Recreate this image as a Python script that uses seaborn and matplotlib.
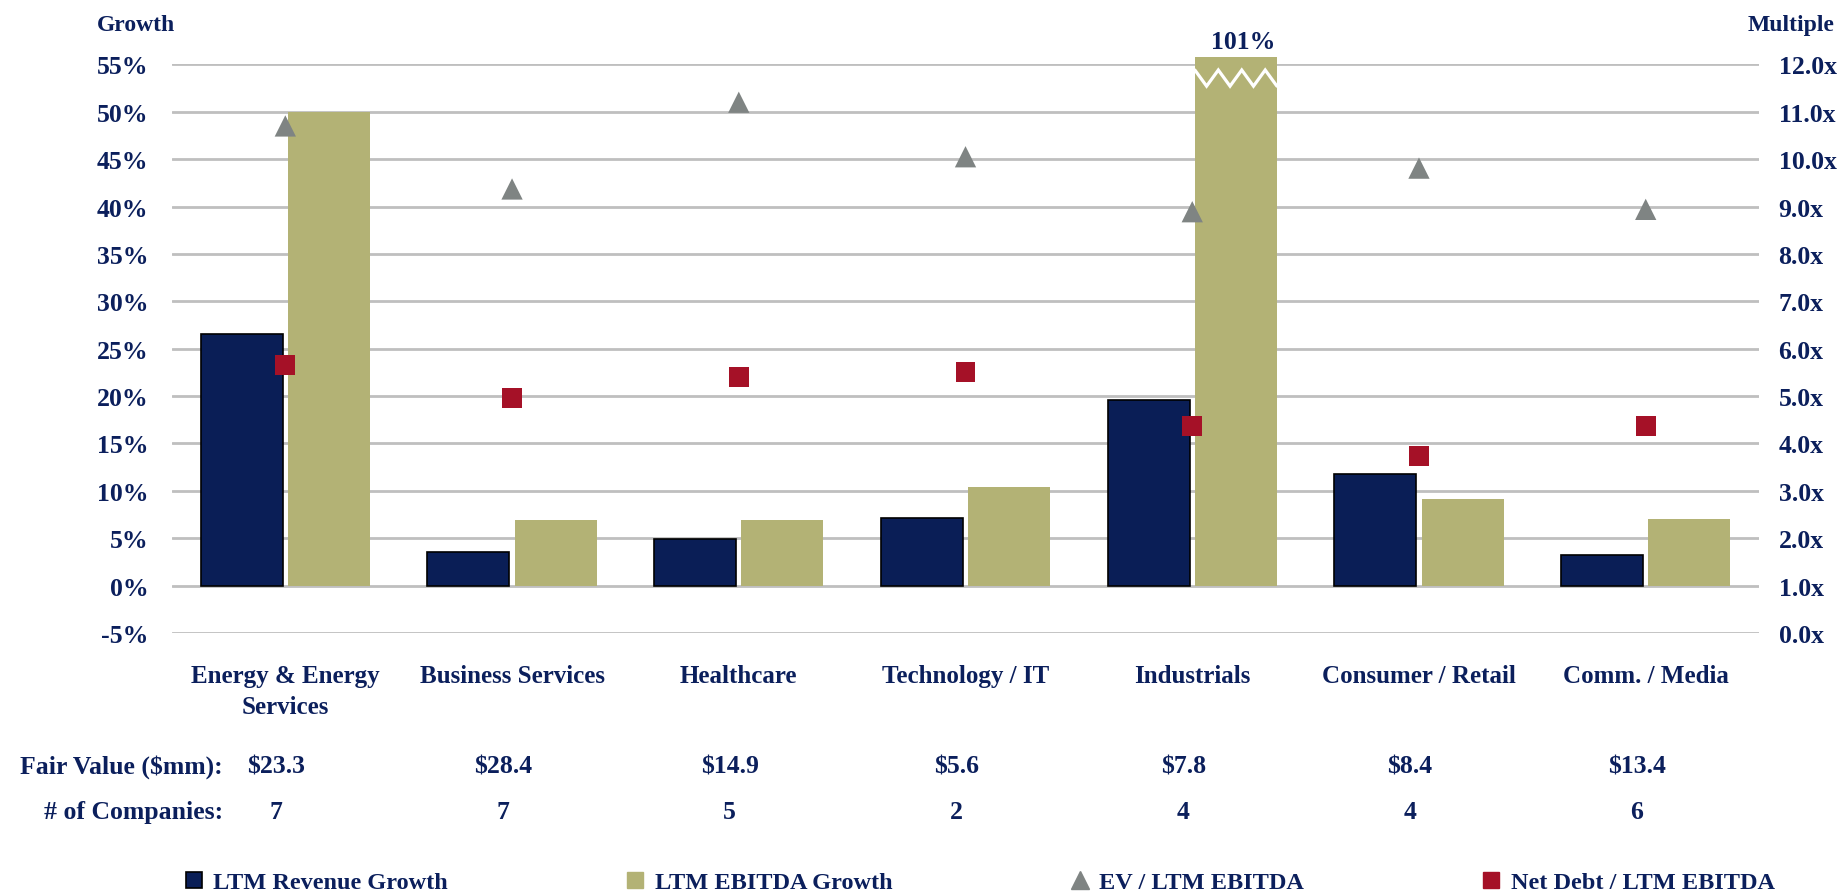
import numpy as np
import pandas as pd
import seaborn as sns
import matplotlib.pyplot as plt
import matplotlib.transforms as mtransforms
from matplotlib.lines import Line2D

# data
sectors = ['Energy & Energy\nServices', 'Business Services', 'Healthcare',
           'Technology / IT', 'Industrials', 'Consumer / Retail', 'Comm. / Media']
revenue_growth = [26.6, 3.5, 4.9, 7.1, 19.6, 11.8, 3.2]
ebitda_growth = [50.0, 6.9, 6.9, 10.4, 101.0, 9.1, 7.0]
ev_ebitda = [10.7, 9.37, 11.2, 10.05, 8.89, 9.81, 8.94]
net_debt_ebitda = [5.66, 4.96, 5.40, 5.50, 4.36, 3.73, 4.36]
fair_value = ['$23.3', '$28.4', '$14.9', '$5.6', '$7.8', '$8.4', '$13.4']
n_companies = ['7', '7', '5', '2', '4', '4', '6']
growth_ticks = list(range(-5, 56, 5))
multiple_ticks = list(range(0, 13))
bar_cap = 55.8  # broken bar drawn up to here

navy = '#0A1E56'
olive = '#B3B275'
gray = '#7F8483'
red = '#A51127'
txt = '#0B1F5C'
grid_c = '#BFBFBF'

sns.set_style('white')
plt.rcParams['font.family'] = ['Liberation Serif', 'DejaVu Serif']
plt.rcParams['font.weight'] = 'bold'

df = pd.DataFrame({
    'sector': sectors * 2,
    'metric': ['LTM Revenue Growth'] * 7 + ['LTM EBITDA Growth'] * 7,
    'value': revenue_growth + [min(v, bar_cap) for v in ebitda_growth],
})

fig = plt.figure(figsize=(18.41, 8.95), dpi=100)
ax = fig.add_axes([0.0934, 0.2916, 0.8621, 0.6354])

sns.barplot(data=df, x='sector', y='value', hue='metric', palette=[navy, olive],
            width=0.77, gap=0.06, saturation=1, errorbar=None, legend=False, ax=ax)
for p in ax.containers[0]:
    p.set_edgecolor('black')
    p.set_linewidth(1.2)
for p in ax.containers[1]:
    p.set_edgecolor(olive)
    p.set_linewidth(0)
for c in ax.containers:
    for p in c:
        p.set_clip_on(False)

ax.set_ylim(-5, 55)
ax.set_xlim(-0.5, len(sectors) - 0.5)
ax.set_yticks(growth_ticks)
ax.set_yticklabels([f'{v}%' for v in growth_ticks])
ax.yaxis.grid(True, color=grid_c, linewidth=2)
ax.set_axisbelow(True)
ax.tick_params(axis='y', length=0, pad=17, labelsize=18.5, labelcolor=txt)
ax.tick_params(axis='x', length=0, pad=22, labelsize=18, labelcolor=txt)
for t in ax.get_xticklabels():
    t.set_linespacing(1.45)
ax.set_xlabel('')
ax.set_ylabel('')
sns.despine(ax=ax, left=True, bottom=True)

# break mark + real value for the off-scale bar
idx = int(np.argmax(ebitda_growth))
bar = ax.containers[1][idx]
bx, bw = bar.get_x(), bar.get_width()
zx = bx + bw * np.arange(8) / 7
zy = np.where(np.arange(8) % 2 == 0, 54.4, 52.7)
ax.plot(zx, zy, color='white', linewidth=2.3, solid_joinstyle='miter', clip_on=False, zorder=5)
ax.annotate(f'{ebitda_growth[idx]:.0f}%', (bx + bw / 2, bar_cap), xytext=(5, 3),
            textcoords='offset points', ha='center', va='bottom', fontsize=18.5, color=txt,
            annotation_clip=False)

ax2 = ax.twinx()
xpos = np.arange(len(sectors))
sns.scatterplot(x=xpos, y=ev_ebitda, marker='^', s=235, color=gray, edgecolor='none',
                ax=ax2, zorder=4)
sns.scatterplot(x=xpos, y=net_debt_ebitda, marker='s', s=205, color=red, edgecolor='none',
                ax=ax2, zorder=4)
ax2.set_ylim(0, 12)
ax2.set_xlim(-0.5, len(sectors) - 0.5)
ax2.set_yticks(multiple_ticks)
ax2.set_yticklabels([f'{v:.1f}x' for v in multiple_ticks])
ax2.tick_params(axis='y', length=0, pad=14, labelsize=18.5, labelcolor=txt)
ax2.grid(False)
for s in ax2.spines.values():
    s.set_visible(False)

fig.text(0.0527, 0.972, 'Growth', fontsize=17, color=txt, ha='left', va='center')
fig.text(0.9967, 0.972, 'Multiple', fontsize=17, color=txt, ha='right', va='center')

# table rows under the chart
trans = mtransforms.blended_transform_factory(ax.transData, fig.transFigure)
fig.text(0.121, 0.143, 'Fair Value ($mm):', fontsize=18.5, color=txt, ha='right', va='center')
fig.text(0.121, 0.0927, '# of Companies:', fontsize=18.5, color=txt, ha='right', va='center')
for i in range(len(sectors)):
    ax.text(i - 0.04, 0.143, fair_value[i], transform=trans, fontsize=18.5, color=txt,
            ha='center', va='center')
    ax.text(i - 0.04, 0.0927, n_companies[i], transform=trans, fontsize=18.5, color=txt,
            ha='center', va='center')

handles = [
    Line2D([], [], linestyle='', marker='s', markersize=11, markerfacecolor=navy,
           markeredgecolor='black', markeredgewidth=1.2),
    Line2D([], [], linestyle='', marker='s', markersize=11, markerfacecolor=olive,
           markeredgecolor=olive),
    Line2D([], [], linestyle='', marker='^', markersize=13, markerfacecolor=gray,
           markeredgecolor=gray),
    Line2D([], [], linestyle='', marker='s', markersize=11, markerfacecolor=red,
           markeredgecolor=red),
]
labels = ['LTM Revenue Growth', 'LTM EBITDA Growth', 'EV / LTM EBITDA', 'Net Debt / LTM EBITDA']
leg = fig.legend(handles, labels, loc='center', bbox_to_anchor=(0.532, 0.013), ncol=4,
                 frameon=False, fontsize=17.5, handlelength=0.8, handletextpad=0.4,
                 columnspacing=7.3, borderpad=0)
for t in leg.get_texts():
    t.set_color(txt)

fig.savefig('out.png', dpi=100)
